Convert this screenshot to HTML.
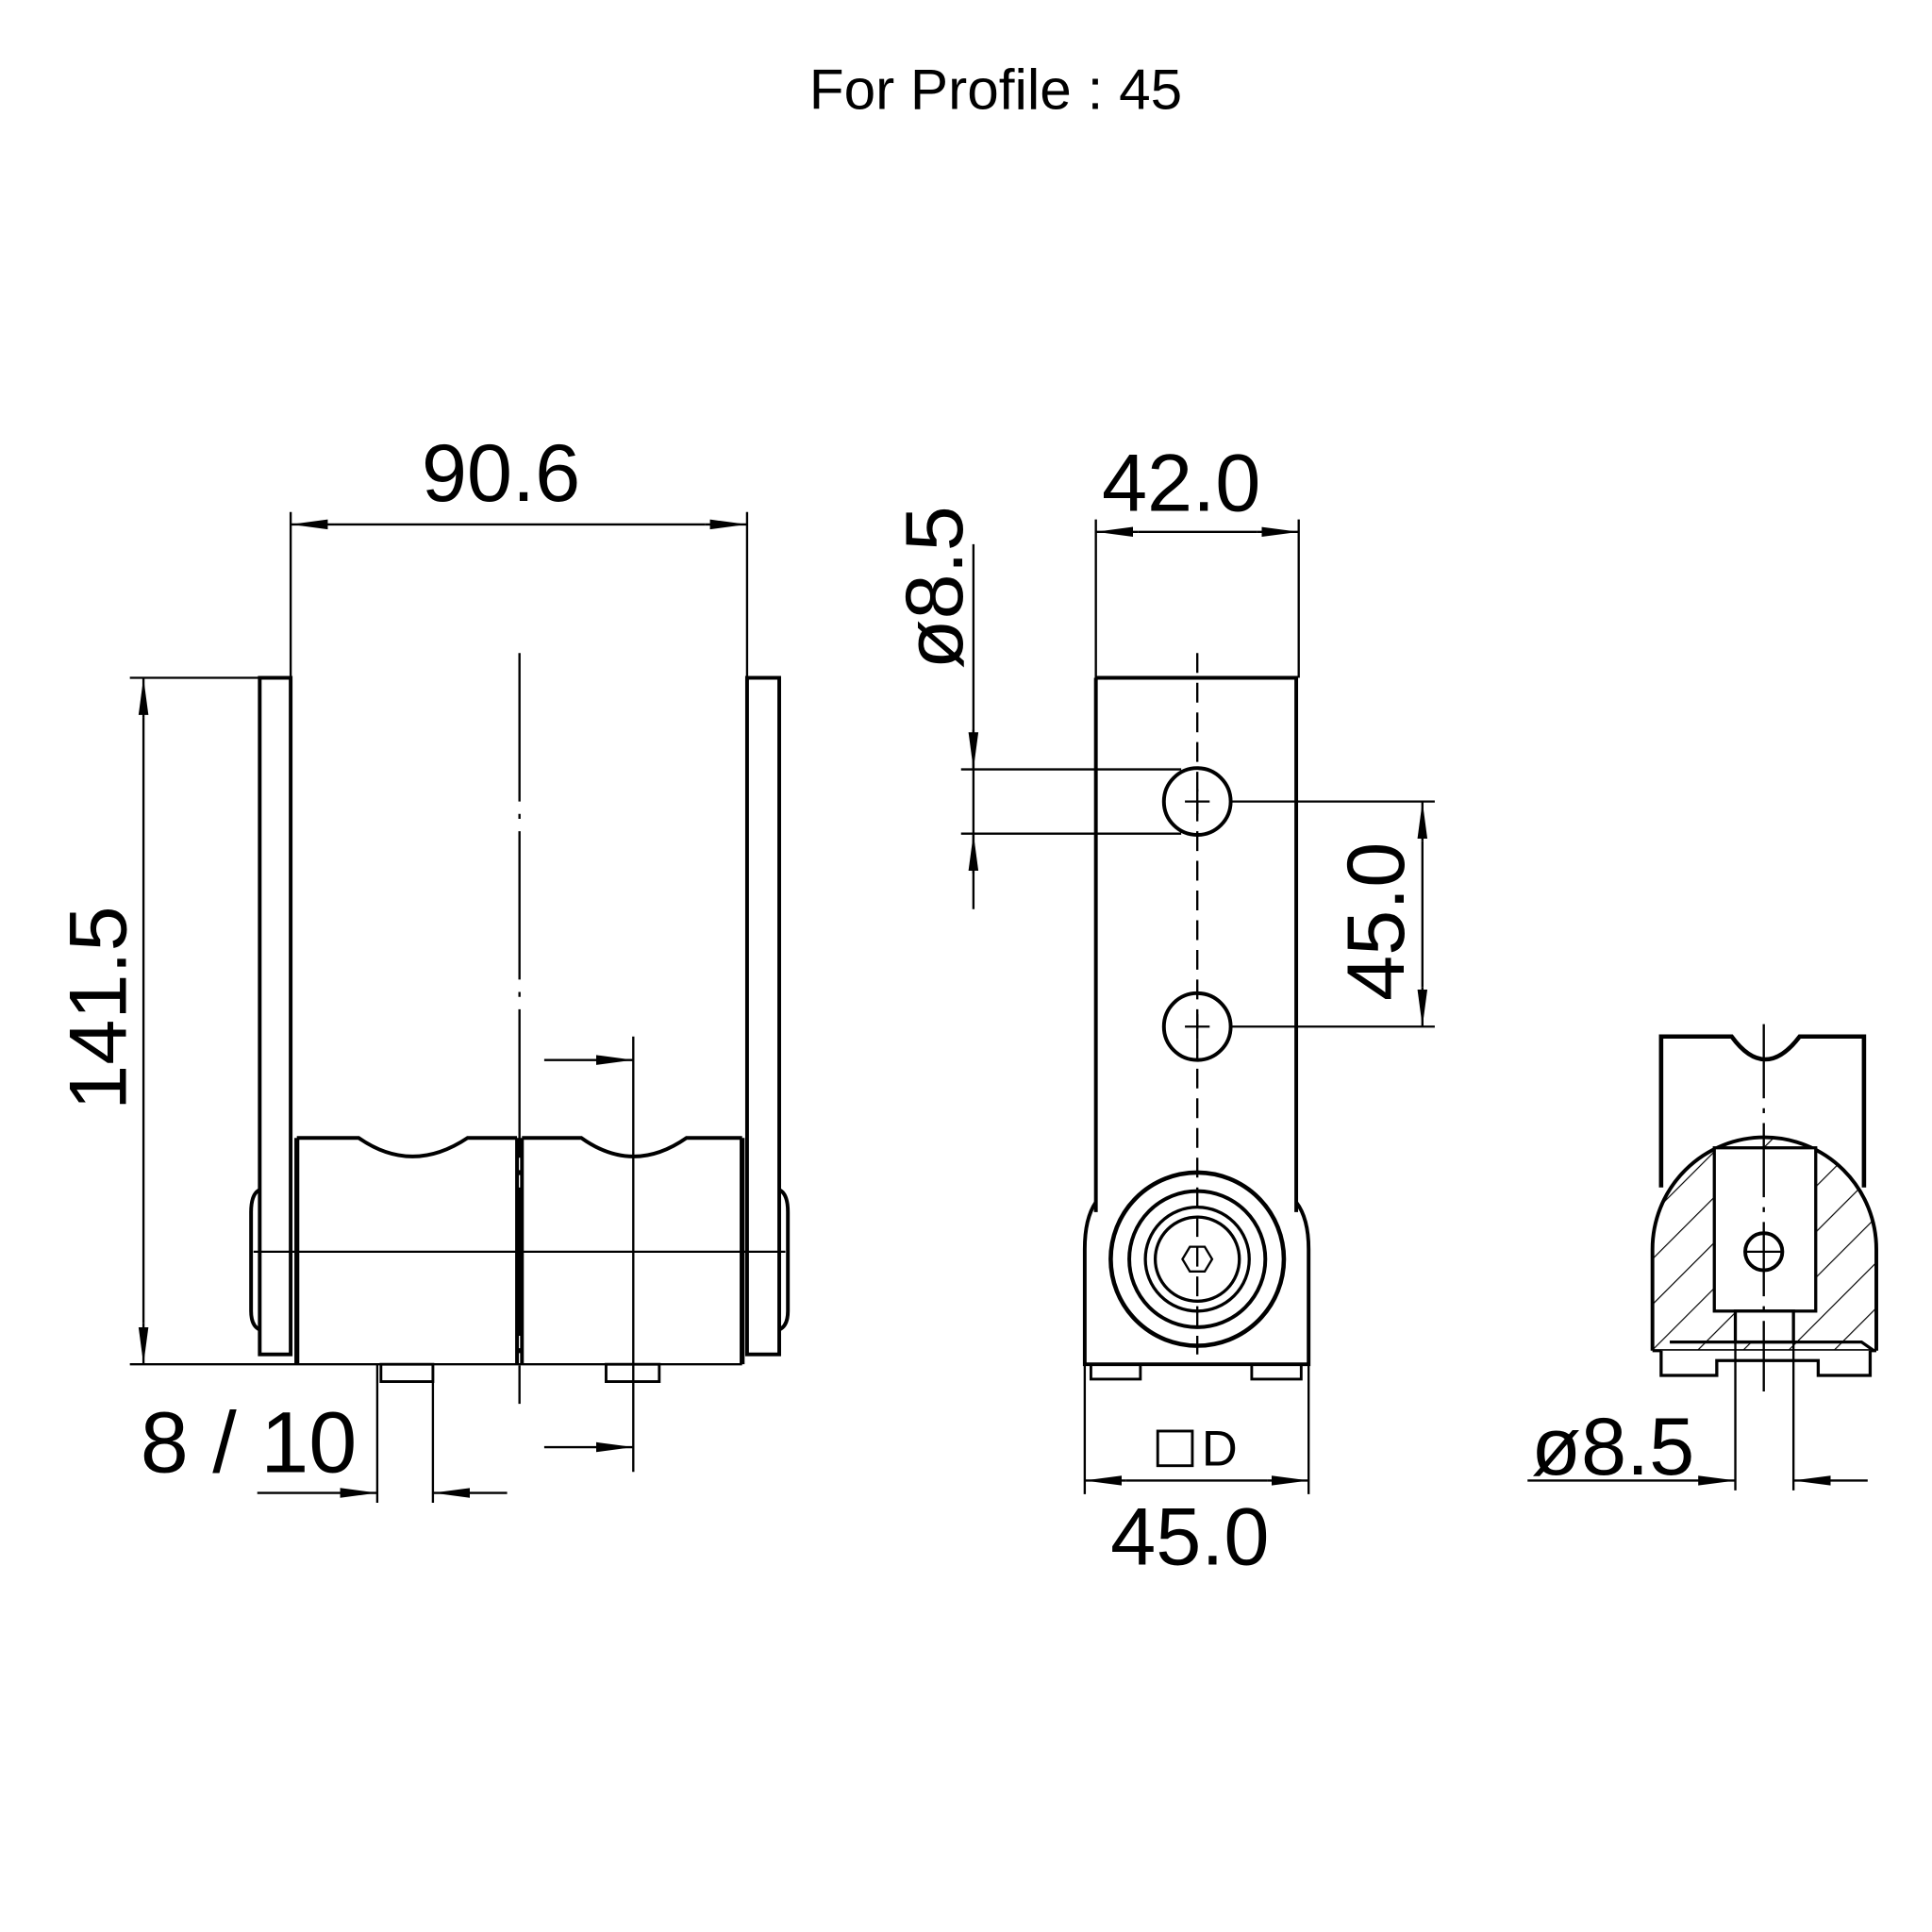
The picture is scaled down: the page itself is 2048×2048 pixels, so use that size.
<!DOCTYPE html>
<html><head><meta charset="utf-8"><style>html,body{margin:0;padding:0;background:#fff}svg{display:block}</style></head>
<body>
<svg width="2048" height="2048" viewBox="0 0 1562 1562" xmlns="http://www.w3.org/2000/svg">
<defs>
<marker id="a" viewBox="0 0 30 10" refX="30" refY="5" markerWidth="30" markerHeight="10" markerUnits="userSpaceOnUse" orient="auto"><path d="M0,1 L30,5 L0,9 Z" fill="#000"/></marker>
<pattern id="h" patternUnits="userSpaceOnUse" width="26" height="26" patternTransform="rotate(45)"><line x1="0" y1="0" x2="0" y2="26" stroke="#000" stroke-width="1.8"/></pattern>
<clipPath id="dome"><path d="M1336,1092 L1336,1010 A90,90 0 0 1 1517,1010 L1517,1092 Z"/></clipPath>
</defs>
<g font-family="Liberation Sans, sans-serif" fill="#000">
<text x="805" y="88" font-size="46" text-anchor="middle">For Profile : 45</text>
</g>
<g fill="none" stroke="#000" stroke-width="2">
<!-- LEFT VIEW -->
<line x1="235" y1="414" x2="235" y2="548" stroke-width="1.8"/>
<line x1="604" y1="414" x2="604" y2="548" stroke-width="1.8"/>
<line x1="270" y1="424" x2="235" y2="424" stroke-width="1.8" marker-end="url(#a)"/>
<line x1="570" y1="424" x2="604" y2="424" stroke-width="1.8" marker-end="url(#a)"/>
<line x1="270" y1="424" x2="570" y2="424" stroke-width="1.8"/>
<line x1="105" y1="548" x2="235" y2="548" stroke-width="1.8"/>
<line x1="105" y1="1103" x2="600" y2="1103" stroke-width="1.8"/>
<line x1="116" y1="580" x2="116" y2="548" stroke-width="1.8" marker-end="url(#a)"/>
<line x1="116" y1="1070" x2="116" y2="1103" stroke-width="1.8" marker-end="url(#a)"/>
<line x1="116" y1="580" x2="116" y2="1070" stroke-width="1.8"/>
<rect x="210" y="548" width="25" height="547" stroke-width="3"/>
<rect x="604" y="548" width="26" height="547" stroke-width="3"/>
<path d="M210,962 Q203,965 203,980 L203,1060 Q203,1072 210,1075" stroke-width="3"/>
<path d="M630,962 Q637,965 637,980 L637,1060 Q637,1072 630,1075" stroke-width="3"/>
<line x1="420" y1="528" x2="420" y2="1135" stroke-width="1.8" stroke-dasharray="120,10,4,10"/>
<path d="M240,920 L290,920 Q333,950 378,920 L418,920" stroke-width="3"/>
<path d="M422,920 L470,920 Q512,950 555,920 L600,920" stroke-width="3"/>
<line x1="240" y1="920" x2="240" y2="1103" stroke-width="4"/>
<line x1="600" y1="920" x2="600" y2="1103" stroke-width="4"/>
<line x1="418" y1="920" x2="418" y2="1103" stroke-width="3"/>
<line x1="422" y1="920" x2="422" y2="1103" stroke-width="3"/>
<line x1="205" y1="1012" x2="635" y2="1012" stroke-width="1.8"/>
<rect x="308" y="1103" width="42" height="14" stroke-width="2.2"/>
<rect x="490" y="1103" width="43" height="14" stroke-width="2.2"/>
<line x1="512" y1="838" x2="512" y2="1190" stroke-width="1.8"/>
<line x1="440" y1="857" x2="512" y2="857" stroke-width="1.8" marker-end="url(#a)"/>
<line x1="440" y1="1170" x2="512" y2="1170" stroke-width="1.8" marker-end="url(#a)"/>
<line x1="305" y1="1103" x2="305" y2="1215" stroke-width="1.8"/>
<line x1="350" y1="1103" x2="350" y2="1215" stroke-width="1.8"/>
<line x1="208" y1="1207" x2="305" y2="1207" stroke-width="1.8" marker-end="url(#a)"/>
<line x1="410" y1="1207" x2="350" y2="1207" stroke-width="1.8" marker-end="url(#a)"/>
<!-- MIDDLE VIEW -->
<line x1="886" y1="420" x2="886" y2="548" stroke-width="1.8"/>
<line x1="1050" y1="420" x2="1050" y2="548" stroke-width="1.8"/>
<line x1="920" y1="430" x2="886" y2="430" stroke-width="1.8" marker-end="url(#a)"/>
<line x1="1016" y1="430" x2="1050" y2="430" stroke-width="1.8" marker-end="url(#a)"/>
<line x1="920" y1="430" x2="1016" y2="430" stroke-width="1.8"/>
<path d="M886,548 L1048,548 L1048,980 M886,548 L886,980" stroke-width="3"/>
<path d="M886,972 Q877,985 877,1010 L877,1103 L1058,1103 L1058,1010 Q1058,985 1048,972" stroke-width="3"/>
<circle cx="968" cy="1018" r="70" stroke-width="3.5"/>
<circle cx="968" cy="1018" r="55" stroke-width="3"/>
<circle cx="968" cy="1018" r="42" stroke-width="2.5"/>
<circle cx="968" cy="1018" r="34" stroke-width="2.5"/>
<polygon points="980,1018 974,1028 962,1028 956,1018 962,1008 974,1008" stroke-width="1.8"/>
<line x1="968" y1="528" x2="968" y2="1095" stroke-width="1.8" stroke-dasharray="16,8"/>
<circle cx="968" cy="648" r="27" stroke-width="3"/>
<circle cx="968" cy="830" r="27" stroke-width="3"/>
<path d="M958,648 H978 M968,638 V658 M958,830 H978 M968,820 V840" stroke-width="1.8"/>
<line x1="787" y1="440" x2="787" y2="735" stroke-width="1.8"/>
<line x1="787" y1="590" x2="787" y2="622" stroke-width="1.8" marker-end="url(#a)"/>
<line x1="787" y1="706" x2="787" y2="674" stroke-width="1.8" marker-end="url(#a)"/>
<line x1="777" y1="622" x2="955" y2="622" stroke-width="1.8"/>
<line x1="777" y1="674" x2="955" y2="674" stroke-width="1.8"/>
<line x1="995" y1="648" x2="1160" y2="648" stroke-width="1.8"/>
<line x1="995" y1="830" x2="1160" y2="830" stroke-width="1.8"/>
<line x1="1150" y1="680" x2="1150" y2="648" stroke-width="1.8" marker-end="url(#a)"/>
<line x1="1150" y1="798" x2="1150" y2="830" stroke-width="1.8" marker-end="url(#a)"/>
<line x1="1150" y1="680" x2="1150" y2="798" stroke-width="1.8"/>
<rect x="882" y="1103" width="40" height="12" stroke-width="2.2"/>
<rect x="1012" y="1103" width="40" height="12" stroke-width="2.2"/>
<line x1="877" y1="1103" x2="877" y2="1208" stroke-width="1.8"/>
<line x1="1058" y1="1103" x2="1058" y2="1208" stroke-width="1.8"/>
<line x1="910" y1="1197" x2="877" y2="1197" stroke-width="1.8" marker-end="url(#a)"/>
<line x1="1025" y1="1197" x2="1058" y2="1197" stroke-width="1.8" marker-end="url(#a)"/>
<line x1="910" y1="1197" x2="1025" y2="1197" stroke-width="1.8"/>
<rect x="936" y="1157" width="28" height="28" stroke-width="2.2"/>
<!-- RIGHT VIEW -->
<path d="M1343,960 L1343,838 L1400,838 Q1427,875 1455,838 L1507,838 L1507,960" stroke-width="3.5"/>
<rect x="1336" y="900" width="181" height="192" fill="url(#h)" stroke="none" clip-path="url(#dome)"/>
<path d="M1336,1092 L1336,1010 A90,90 0 0 1 1517,1010 L1517,1092" stroke-width="3"/>
<rect x="1386" y="928" width="82" height="132" fill="#fff" stroke-width="2.5"/>
<rect x="1403" y="1060" width="47" height="25" fill="#fff" stroke-width="2.5"/>
<circle cx="1426" cy="1012" r="15" stroke-width="3"/>
<line x1="1411" y1="1012" x2="1441" y2="1012" stroke-width="1.8"/>
<path d="M1336,1092 L1517,1092 M1350,1085 L1505,1085 L1515,1092" stroke-width="2.5"/>
<path d="M1343,1092 L1343,1112 L1388,1112 L1388,1100 L1470,1100 L1470,1112 L1512,1112 L1512,1092" fill="#fff" stroke-width="2.5"/>
<line x1="1426" y1="828" x2="1426" y2="1125" stroke-width="1.8" stroke-dasharray="60,8,4,8"/>
<line x1="1403" y1="1085" x2="1403" y2="1205" stroke-width="1.8"/>
<line x1="1450" y1="1085" x2="1450" y2="1205" stroke-width="1.8"/>
<line x1="1235" y1="1197" x2="1403" y2="1197" stroke-width="1.8" marker-end="url(#a)"/>
<line x1="1510" y1="1197" x2="1450" y2="1197" stroke-width="1.8" marker-end="url(#a)"/>
</g>
<g font-family="Liberation Sans, DejaVu Sans, sans-serif" fill="#000" font-size="66">
<text x="405" y="405" text-anchor="middle">90.6</text>
<text x="955" y="413" text-anchor="middle">42.0</text>
<text transform="translate(102,815) rotate(-90)" text-anchor="middle">141.5</text>
<text transform="translate(778,475) rotate(-90)" text-anchor="middle">ø8.5</text>
<text transform="translate(1135,745) rotate(-90)" text-anchor="middle">45.0</text>
<text x="201" y="1190" text-anchor="middle" font-size="70">8 / 10</text>
<text x="962" y="1265" text-anchor="middle">45.0</text>
<text x="1304" y="1192" text-anchor="middle">ø8.5</text>
<text x="986" y="1185" font-size="40" text-anchor="middle">D</text>
</g>
</svg>
</body></html>
